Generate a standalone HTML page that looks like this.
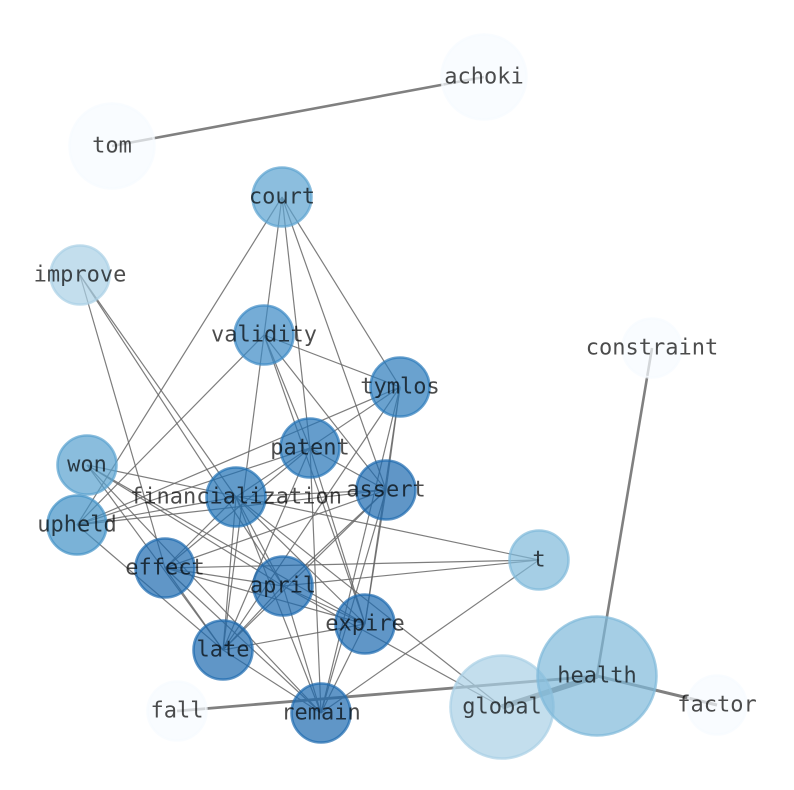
<!DOCTYPE html>
<html><head><meta charset="utf-8"><style>html,body{margin:0;padding:0;background:#fff}svg{display:block}text{font-family:"DejaVu Sans Mono","Liberation Mono",monospace;font-size:22px;fill:#000;fill-opacity:.7;text-anchor:middle}</style></head>
<body>
<svg width="794" height="790" viewBox="0 0 794 790" xmlns="http://www.w3.org/2000/svg">
<g stroke="#666" stroke-opacity=".85" stroke-width="1.2" fill="none">
<line x1="282" y1="197" x2="77" y2="525"/><line x1="282" y1="197" x2="223" y2="650"/><line x1="282" y1="197" x2="310" y2="448"/><line x1="282" y1="197" x2="386" y2="490"/><line x1="282" y1="197" x2="400" y2="387"/>
<line x1="80" y1="275" x2="165" y2="568"/><line x1="80" y1="275" x2="283" y2="586"/><line x1="80" y1="275" x2="236" y2="497"/>
<line x1="264" y1="335" x2="77" y2="525"/><line x1="264" y1="335" x2="400" y2="387"/><line x1="264" y1="335" x2="310" y2="448"/><line x1="264" y1="335" x2="365" y2="624"/><line x1="264" y1="335" x2="386" y2="490"/>
<line x1="400" y1="387" x2="77" y2="525"/><line x1="400" y1="387" x2="236" y2="497"/><line x1="400" y1="387" x2="223" y2="650"/><line x1="400" y1="387" x2="365" y2="624"/><line x1="400" y1="387" x2="321" y2="713"/><line x1="400" y1="387" x2="386" y2="490"/>
<line x1="310" y1="448" x2="77" y2="525"/><line x1="310" y1="448" x2="165" y2="568"/><line x1="310" y1="448" x2="223" y2="650"/><line x1="310" y1="448" x2="321" y2="713"/><line x1="310" y1="448" x2="365" y2="624"/><line x1="310" y1="448" x2="386" y2="490"/>
<line x1="87" y1="465" x2="539" y2="560"/><line x1="87" y1="465" x2="283" y2="586"/><line x1="87" y1="465" x2="365" y2="624"/><line x1="87" y1="465" x2="223" y2="650"/><line x1="87" y1="465" x2="321" y2="713"/>
<line x1="77" y1="525" x2="386" y2="490"/><line x1="77" y1="525" x2="223" y2="650"/><line x1="77" y1="525" x2="236" y2="497"/>
<line x1="386" y1="490" x2="165" y2="568"/><line x1="386" y1="490" x2="283" y2="586"/><line x1="386" y1="490" x2="223" y2="650"/><line x1="386" y1="490" x2="365" y2="624"/><line x1="386" y1="490" x2="321" y2="713"/><line x1="386" y1="490" x2="236" y2="497"/>
<line x1="236" y1="497" x2="165" y2="568"/><line x1="236" y1="497" x2="223" y2="650"/><line x1="236" y1="497" x2="283" y2="586"/><line x1="236" y1="497" x2="365" y2="624"/><line x1="236" y1="497" x2="321" y2="713"/><line x1="236" y1="497" x2="502" y2="707"/>
<line x1="165" y1="568" x2="283" y2="586"/><line x1="165" y1="568" x2="365" y2="624"/><line x1="165" y1="568" x2="223" y2="650"/><line x1="165" y1="568" x2="321" y2="713"/><line x1="165" y1="568" x2="539" y2="560"/>
<line x1="283" y1="586" x2="539" y2="560"/><line x1="283" y1="586" x2="502" y2="707"/><line x1="283" y1="586" x2="365" y2="624"/><line x1="283" y1="586" x2="223" y2="650"/><line x1="283" y1="586" x2="321" y2="713"/>
<line x1="365" y1="624" x2="223" y2="650"/><line x1="365" y1="624" x2="321" y2="713"/>
<line x1="223" y1="650" x2="321" y2="713"/><line x1="539" y1="560" x2="321" y2="713"/>
</g>
<g stroke="#808080" fill="none">
<line x1="112" y1="146" x2="484" y2="77" stroke-width="2.6"/>
<line x1="652" y1="348" x2="597" y2="676" stroke-width="2.6"/>
<line x1="597" y1="676" x2="717" y2="705" stroke-width="3"/>
<line x1="177" y1="711" x2="597" y2="676" stroke-width="2.8"/>
<line x1="502" y1="707" x2="597" y2="676" stroke-width="5.5"/>
</g>
<g stroke-width="2.6" fill-opacity=".7" stroke-opacity=".7">
<circle cx="484" cy="77" r="42.5" fill="#f7fbff" stroke="#f7fbff"/>
<circle cx="112" cy="146" r="42.5" fill="#f7fbff" stroke="#f7fbff"/>
<circle cx="652" cy="348" r="29.5" fill="#f7fbff" stroke="#f7fbff"/>
<circle cx="717" cy="705" r="29.5" fill="#f7fbff" stroke="#f7fbff"/>
<circle cx="177" cy="711" r="29.5" fill="#f7fbff" stroke="#f7fbff"/>
<circle cx="282" cy="197" r="29.5" fill="#5ba3d0" stroke="#5ba3d0"/>
<circle cx="80" cy="275" r="29.5" fill="#a9d0e6" stroke="#a9d0e6"/>
<circle cx="264" cy="335" r="29.5" fill="#3a89c4" stroke="#3a89c4"/>
<circle cx="400" cy="387" r="29.5" fill="#2b7bba" stroke="#2b7bba"/>
<circle cx="310" cy="448" r="29.5" fill="#2373b6" stroke="#2373b6"/>
<circle cx="87" cy="465" r="29.5" fill="#58a1cf" stroke="#58a1cf"/>
<circle cx="386" cy="490" r="29.5" fill="#1c69af" stroke="#1c69af"/>
<circle cx="236" cy="497" r="29.5" fill="#2070b4" stroke="#2070b4"/>
<circle cx="77" cy="525" r="29.5" fill="#4292c6" stroke="#4292c6"/>
<circle cx="539" cy="560" r="29.5" fill="#7fb9da" stroke="#7fb9da"/>
<circle cx="165" cy="568" r="29.5" fill="#1c69af" stroke="#1c69af"/>
<circle cx="283" cy="586" r="29.5" fill="#1c69af" stroke="#1c69af"/>
<circle cx="365" cy="624" r="29.5" fill="#1c69af" stroke="#1c69af"/>
<circle cx="223" cy="650" r="29.5" fill="#1c69af" stroke="#1c69af"/>
<circle cx="321" cy="713" r="29.5" fill="#1c69af" stroke="#1c69af"/>
<circle cx="502" cy="707" r="51.5" fill="#a9d0e6" stroke="#a9d0e6"/>
<circle cx="597" cy="676" r="59.5" fill="#7fb9da" stroke="#7fb9da"/>
</g>
<g>
<text x="484" y="83.5">achoki</text><text x="112" y="152.5">tom</text><text x="282" y="203.5">court</text><text x="80" y="281.5">improve</text><text x="264" y="341.5">validity</text><text x="652" y="354.5">constraint</text><text x="400" y="393.5">tymlos</text><text x="310" y="454.5">patent</text><text x="87" y="471.5">won</text><text x="386" y="496.5">assert</text><text x="236" y="503.5">financialization</text><text x="77" y="531.5">upheld</text><text x="539" y="566.5">t</text><text x="165" y="574.5">effect</text><text x="283" y="592.5">april</text><text x="365" y="630.5">expire</text><text x="223" y="656.5">late</text><text x="597" y="682.5">health</text><text x="717" y="711.5">factor</text><text x="502" y="713.5">global</text><text x="177" y="717.5">fall</text><text x="321" y="719.5">remain</text>
</g>
</svg>
</body></html>
